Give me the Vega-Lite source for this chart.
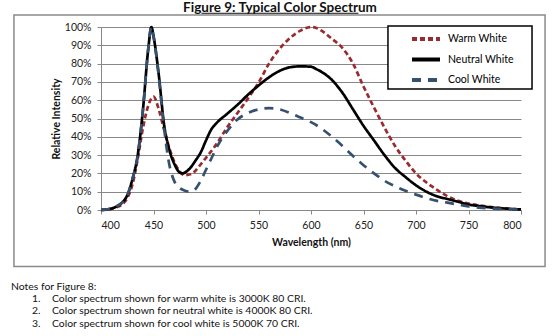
{
  "$schema": "https://vega.github.io/schema/vega-lite/v6.json",
  "width": 420,
  "height": 183,
  "autosize": {"type": "none"},
  "padding": {"left": 101, "top": 27, "right": 39, "bottom": 126},
  "background": "white",
  "config": {
    "view": {"stroke": null},
    "font": "Lato",
    "axis": {"labelFont": "Lato", "titleFont": "Lato", "labelColor": "#222", "titleColor": "#111"}
  },
  "resolve": {"axis": {"x": "independent", "y": "independent"}},
  "layer": [
    {
      "data": {"values": [
    {"series":"Warm White","wavelength":400,"intensity":0},{"series":"Warm White","wavelength":405,"intensity":0.2},{"series":"Warm White","wavelength":410,"intensity":0.6},{"series":"Warm White","wavelength":415,"intensity":1.5},{"series":"Warm White","wavelength":420,"intensity":3},{"series":"Warm White","wavelength":425,"intensity":6.5},{"series":"Warm White","wavelength":430,"intensity":14},{"series":"Warm White","wavelength":435,"intensity":28},{"series":"Warm White","wavelength":440,"intensity":45},{"series":"Warm White","wavelength":445,"intensity":57},{"series":"Warm White","wavelength":450,"intensity":62},{"series":"Warm White","wavelength":455,"intensity":55},{"series":"Warm White","wavelength":460,"intensity":44},{"series":"Warm White","wavelength":465,"intensity":34},{"series":"Warm White","wavelength":470,"intensity":26},{"series":"Warm White","wavelength":475,"intensity":21},{"series":"Warm White","wavelength":480,"intensity":19},{"series":"Warm White","wavelength":485,"intensity":19.5},{"series":"Warm White","wavelength":490,"intensity":21.5},{"series":"Warm White","wavelength":495,"intensity":25},{"series":"Warm White","wavelength":500,"intensity":28.5},{"series":"Warm White","wavelength":510,"intensity":36},{"series":"Warm White","wavelength":520,"intensity":45},{"series":"Warm White","wavelength":530,"intensity":53},{"series":"Warm White","wavelength":540,"intensity":61},{"series":"Warm White","wavelength":550,"intensity":69.5},{"series":"Warm White","wavelength":560,"intensity":80},{"series":"Warm White","wavelength":570,"intensity":88},{"series":"Warm White","wavelength":580,"intensity":94},{"series":"Warm White","wavelength":590,"intensity":98},{"series":"Warm White","wavelength":600,"intensity":100},{"series":"Warm White","wavelength":605,"intensity":99.5},{"series":"Warm White","wavelength":610,"intensity":98},{"series":"Warm White","wavelength":620,"intensity":93.5},{"series":"Warm White","wavelength":630,"intensity":88.5},{"series":"Warm White","wavelength":640,"intensity":80},{"series":"Warm White","wavelength":650,"intensity":67.5},{"series":"Warm White","wavelength":660,"intensity":56},{"series":"Warm White","wavelength":670,"intensity":45},{"series":"Warm White","wavelength":680,"intensity":35},{"series":"Warm White","wavelength":690,"intensity":27},{"series":"Warm White","wavelength":700,"intensity":20},{"series":"Warm White","wavelength":710,"intensity":15},{"series":"Warm White","wavelength":720,"intensity":11},{"series":"Warm White","wavelength":730,"intensity":7.5},{"series":"Warm White","wavelength":740,"intensity":5},{"series":"Warm White","wavelength":750,"intensity":3.5},{"series":"Warm White","wavelength":760,"intensity":2.5},{"series":"Warm White","wavelength":770,"intensity":1.7},{"series":"Warm White","wavelength":780,"intensity":1.1},{"series":"Warm White","wavelength":790,"intensity":0.6},{"series":"Warm White","wavelength":800,"intensity":0.3},
    {"series":"Neutral White","wavelength":400,"intensity":0},{"series":"Neutral White","wavelength":405,"intensity":0.3},{"series":"Neutral White","wavelength":410,"intensity":0.8},{"series":"Neutral White","wavelength":415,"intensity":2},{"series":"Neutral White","wavelength":420,"intensity":4},{"series":"Neutral White","wavelength":425,"intensity":8},{"series":"Neutral White","wavelength":430,"intensity":17},{"series":"Neutral White","wavelength":435,"intensity":30},{"series":"Neutral White","wavelength":440,"intensity":55},{"series":"Neutral White","wavelength":445,"intensity":88},{"series":"Neutral White","wavelength":448,"intensity":100},{"series":"Neutral White","wavelength":450,"intensity":95},{"series":"Neutral White","wavelength":455,"intensity":74},{"series":"Neutral White","wavelength":460,"intensity":47},{"series":"Neutral White","wavelength":465,"intensity":33},{"series":"Neutral White","wavelength":470,"intensity":25},{"series":"Neutral White","wavelength":475,"intensity":20.5},{"series":"Neutral White","wavelength":478,"intensity":20},{"series":"Neutral White","wavelength":480,"intensity":20.5},{"series":"Neutral White","wavelength":485,"intensity":23},{"series":"Neutral White","wavelength":490,"intensity":27},{"series":"Neutral White","wavelength":495,"intensity":31.5},{"series":"Neutral White","wavelength":500,"intensity":38},{"series":"Neutral White","wavelength":505,"intensity":44},{"series":"Neutral White","wavelength":510,"intensity":47.5},{"series":"Neutral White","wavelength":520,"intensity":52.5},{"series":"Neutral White","wavelength":530,"intensity":57.5},{"series":"Neutral White","wavelength":540,"intensity":63},{"series":"Neutral White","wavelength":550,"intensity":68},{"series":"Neutral White","wavelength":560,"intensity":72.5},{"series":"Neutral White","wavelength":570,"intensity":76},{"series":"Neutral White","wavelength":580,"intensity":78},{"series":"Neutral White","wavelength":590,"intensity":78.5},{"series":"Neutral White","wavelength":600,"intensity":78.3},{"series":"Neutral White","wavelength":605,"intensity":77},{"series":"Neutral White","wavelength":610,"intensity":75.5},{"series":"Neutral White","wavelength":620,"intensity":71},{"series":"Neutral White","wavelength":630,"intensity":64},{"series":"Neutral White","wavelength":640,"intensity":55},{"series":"Neutral White","wavelength":650,"intensity":46},{"series":"Neutral White","wavelength":660,"intensity":38},{"series":"Neutral White","wavelength":670,"intensity":30},{"series":"Neutral White","wavelength":680,"intensity":23},{"series":"Neutral White","wavelength":690,"intensity":18},{"series":"Neutral White","wavelength":700,"intensity":13.5},{"series":"Neutral White","wavelength":710,"intensity":10},{"series":"Neutral White","wavelength":720,"intensity":7.5},{"series":"Neutral White","wavelength":730,"intensity":6},{"series":"Neutral White","wavelength":740,"intensity":4.5},{"series":"Neutral White","wavelength":750,"intensity":3},{"series":"Neutral White","wavelength":760,"intensity":2.2},{"series":"Neutral White","wavelength":770,"intensity":1.5},{"series":"Neutral White","wavelength":780,"intensity":1},{"series":"Neutral White","wavelength":790,"intensity":0.6},{"series":"Neutral White","wavelength":800,"intensity":0.3},
    {"series":"Cool White","wavelength":400,"intensity":0},{"series":"Cool White","wavelength":405,"intensity":0.3},{"series":"Cool White","wavelength":410,"intensity":0.8},{"series":"Cool White","wavelength":415,"intensity":2},{"series":"Cool White","wavelength":420,"intensity":4},{"series":"Cool White","wavelength":425,"intensity":8},{"series":"Cool White","wavelength":430,"intensity":17},{"series":"Cool White","wavelength":435,"intensity":30},{"series":"Cool White","wavelength":440,"intensity":55},{"series":"Cool White","wavelength":445,"intensity":88},{"series":"Cool White","wavelength":448,"intensity":100},{"series":"Cool White","wavelength":450,"intensity":95},{"series":"Cool White","wavelength":455,"intensity":73},{"series":"Cool White","wavelength":460,"intensity":45},{"series":"Cool White","wavelength":465,"intensity":25},{"series":"Cool White","wavelength":470,"intensity":15.5},{"series":"Cool White","wavelength":475,"intensity":12},{"series":"Cool White","wavelength":480,"intensity":10.5},{"series":"Cool White","wavelength":485,"intensity":10},{"series":"Cool White","wavelength":490,"intensity":11.5},{"series":"Cool White","wavelength":495,"intensity":16},{"series":"Cool White","wavelength":500,"intensity":22},{"series":"Cool White","wavelength":505,"intensity":28},{"series":"Cool White","wavelength":510,"intensity":34},{"series":"Cool White","wavelength":515,"intensity":39},{"series":"Cool White","wavelength":520,"intensity":43},{"series":"Cool White","wavelength":530,"intensity":49.5},{"series":"Cool White","wavelength":540,"intensity":53},{"series":"Cool White","wavelength":550,"intensity":55},{"series":"Cool White","wavelength":560,"intensity":55.7},{"series":"Cool White","wavelength":570,"intensity":55},{"series":"Cool White","wavelength":580,"intensity":53},{"series":"Cool White","wavelength":590,"intensity":50.5},{"series":"Cool White","wavelength":600,"intensity":48},{"series":"Cool White","wavelength":610,"intensity":44.5},{"series":"Cool White","wavelength":620,"intensity":40},{"series":"Cool White","wavelength":630,"intensity":35},{"series":"Cool White","wavelength":640,"intensity":29.5},{"series":"Cool White","wavelength":650,"intensity":24.5},{"series":"Cool White","wavelength":660,"intensity":20},{"series":"Cool White","wavelength":670,"intensity":16},{"series":"Cool White","wavelength":680,"intensity":13},{"series":"Cool White","wavelength":690,"intensity":10.5},{"series":"Cool White","wavelength":700,"intensity":8.4},{"series":"Cool White","wavelength":710,"intensity":6.5},{"series":"Cool White","wavelength":720,"intensity":5},{"series":"Cool White","wavelength":730,"intensity":4},{"series":"Cool White","wavelength":740,"intensity":3},{"series":"Cool White","wavelength":750,"intensity":2},{"series":"Cool White","wavelength":760,"intensity":1.3},{"series":"Cool White","wavelength":770,"intensity":0.9},{"series":"Cool White","wavelength":780,"intensity":0.6},{"series":"Cool White","wavelength":790,"intensity":0.4},{"series":"Cool White","wavelength":800,"intensity":0.2}
      ]},
      "mark": {"type": "line", "interpolate": "monotone", "strokeWidth": 2.7, "clip": false},
      "encoding": {
        "x": {"field": "wavelength", "type": "quantitative", "scale": {"domain": [400, 800], "nice": false},
          "axis": {"values": [400,450,500,550,600,650,700,750,800], "grid": false, "domainColor": "#888", "tickColor": "#888", "tickSize": 4, "labelFontSize": 10.5, "labelPadding": 6, "title": "Wavelength (nm)", "titleFontSize": 10.5, "titleFontWeight": "bold", "titlePadding": 7}},
        "y": {"field": "intensity", "type": "quantitative", "scale": {"domain": [0, 100], "nice": false},
          "axis": {"values": [0,10,20,30,40,50,60,70,80,90,100], "labelExpr": "datum.value + '%'", "labelOverlap": false, "grid": true, "gridColor": "#888", "gridWidth": 1, "domainColor": "#888", "tickColor": "#888", "tickSize": 4, "labelFontSize": 10.5, "labelPadding": 6, "title": "Relative Intensity", "titleFontSize": 10.5, "titleFontWeight": "bold", "titlePadding": 3}},
        "color": {"field": "series", "type": "nominal", "scale": {"domain": ["Warm White", "Neutral White", "Cool White"], "range": ["#9b2a2e", "#000000", "#36516f"]},
          "legend": {"orient": "none", "legendX": 313, "legendY": 0, "title": null, "symbolType": "M-1.4,0H1.4", "symbolSize": 400, "symbolStrokeWidth": 4, "symbolFillColor": "transparent", "labelFontSize": 10.5, "labelFont": "Lato", "labelColor": "#000", "labelOffset": 10, "rowPadding": 0.5, "padding": 0, "zindex": 2}},
        "strokeDash": {"field": "series", "type": "nominal", "scale": {"domain": ["Warm White", "Neutral White", "Cool White"], "range": [[5, 3], [1, 0], [9, 7]]}, "legend": null}
      }
    },
    {
      "data": {"values": [{}]},
      "mark": {"type": "rect", "fill": null, "stroke": "#8a8a8a", "strokeWidth": 1.5, "clip": false},
      "encoding": {
        "x": {"datum": 317.1, "type": "quantitative", "axis": null},
        "x2": {"datum": 822.9},
        "y": {"datum": 106.6, "type": "quantitative", "axis": null},
        "y2": {"datum": -30.9}
      }
    },
    {
      "data": {"values": [{}]},
      "mark": {"type": "rect", "fill": "white", "stroke": "black", "strokeWidth": 1.5, "clip": false},
      "encoding": {
        "x": {"datum": 673.3, "type": "quantitative", "axis": null},
        "x2": {"datum": 810.5},
        "y": {"datum": 100.5, "type": "quantitative", "axis": null},
        "y2": {"datum": 66.1}
      }
    },
    {
      "data": {"values": [{}]},
      "mark": {"type": "text", "align": "center", "baseline": "middle", "font": "Lato", "fontSize": 13.5, "fontWeight": "bold", "color": "#111", "clip": false},
      "encoding": {
        "x": {"datum": 570.5, "type": "quantitative", "axis": null},
        "y": {"datum": 110.6, "type": "quantitative", "axis": null},
        "text": {"value": "Figure 9:  Typical Color Spectrum"}
      }
    },
    {
      "data": {"values": [{}]},
      "mark": {"type": "rule", "stroke": "#111", "strokeWidth": 1, "clip": false},
      "encoding": {
        "x": {"datum": 495.7, "type": "quantitative", "axis": null},
        "x2": {"datum": 645.2},
        "y": {"datum": 107.5, "type": "quantitative", "axis": null}
      }
    },
    {
      "data": {"values": [{}]},
      "mark": {"type": "text", "align": "left", "baseline": "middle", "font": "Lato", "fontSize": 10.4, "color": "#111", "clip": false},
      "encoding": {
        "x": {"datum": 314.3, "type": "quantitative", "axis": null},
        "y": {"datum": -41.9, "type": "quantitative", "axis": null},
        "text": {"value": "Notes for Figure 8:"}
      }
    },
    {
      "data": {"values": [{}]},
      "mark": {"type": "text", "align": "left", "baseline": "top", "font": "Lato", "fontSize": 10.4, "color": "#111", "clip": false, "lineHeight": 12.2},
      "encoding": {
        "x": {"datum": 334.3, "type": "quantitative", "axis": null},
        "y": {"datum": -46.0, "type": "quantitative", "axis": null},
        "text": {"value": ["1.", "2.", "3."]}
      }
    },
    {
      "data": {"values": [{}]},
      "mark": {"type": "text", "align": "left", "baseline": "top", "font": "Lato", "fontSize": 10.4, "color": "#111", "clip": false, "lineHeight": 12.2},
      "encoding": {
        "x": {"datum": 353.3, "type": "quantitative", "axis": null},
        "y": {"datum": -46.0, "type": "quantitative", "axis": null},
        "text": {"value": ["Color spectrum shown for warm white is 3000K 80 CRI.", "Color spectrum shown for neutral white is 4000K 80 CRI.", "Color spectrum shown for cool white is 5000K 70 CRI."]}
      }
    }
  ]
}
